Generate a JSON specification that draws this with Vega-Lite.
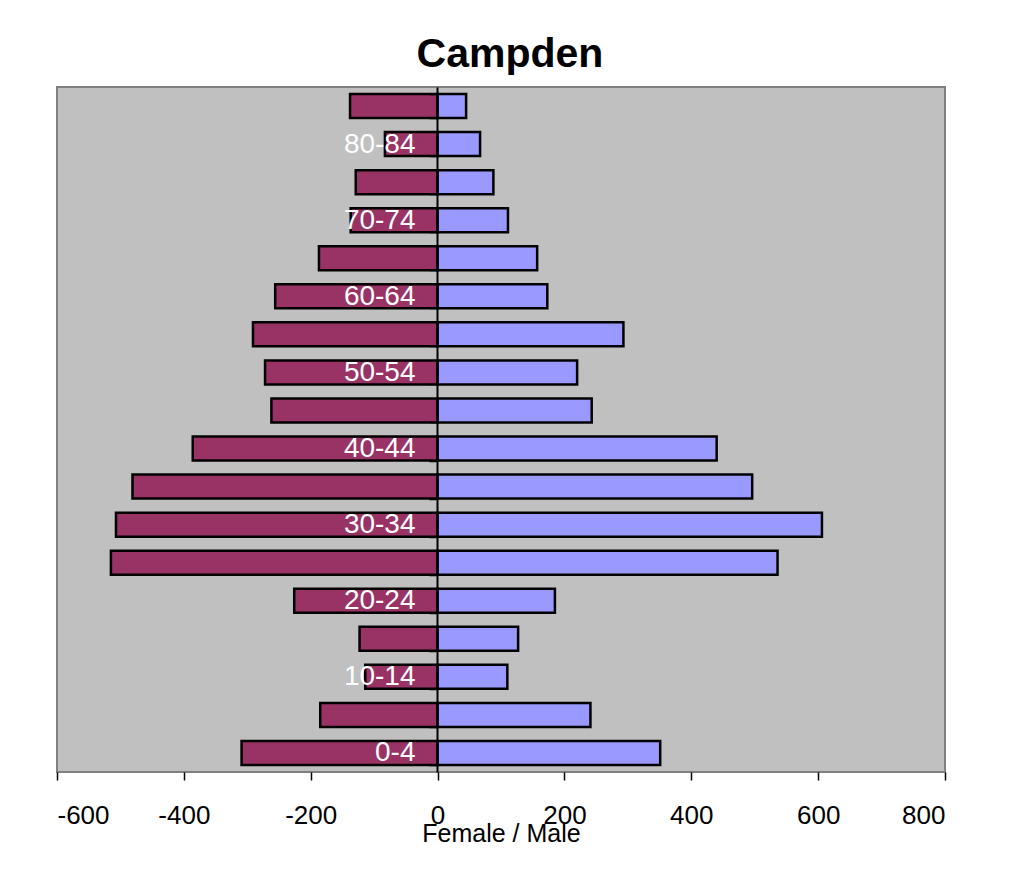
{
  "$schema": "https://vega.github.io/schema/vega-lite/v6.json",
  "width": 888,
  "height": 685,
  "autosize": {"type": "none"},
  "padding": {"left": 57, "top": 87, "right": 88, "bottom": 102},
  "background": "white",
  "title": {"text": "Campden", "font": "Liberation Sans", "fontSize": 41, "fontWeight": "bold", "color": "black", "offset": -3, "frame": "group", "dx": 9},
  "config": {"view": {"fill": "#C0C0C0", "stroke": "#808080", "strokeWidth": 2}},
  "data": {"values": [
    {"age": "85+", "sex": "Female", "value": -138},
    {"age": "80-84", "sex": "Female", "value": -83},
    {"age": "75-79", "sex": "Female", "value": -129},
    {"age": "70-74", "sex": "Female", "value": -137},
    {"age": "65-69", "sex": "Female", "value": -187},
    {"age": "60-64", "sex": "Female", "value": -256},
    {"age": "55-59", "sex": "Female", "value": -291},
    {"age": "50-54", "sex": "Female", "value": -272},
    {"age": "45-49", "sex": "Female", "value": -262},
    {"age": "40-44", "sex": "Female", "value": -386},
    {"age": "35-39", "sex": "Female", "value": -481},
    {"age": "30-34", "sex": "Female", "value": -507},
    {"age": "25-29", "sex": "Female", "value": -515},
    {"age": "20-24", "sex": "Female", "value": -226},
    {"age": "15-19", "sex": "Female", "value": -123},
    {"age": "10-14", "sex": "Female", "value": -114},
    {"age": "5-9", "sex": "Female", "value": -185},
    {"age": "0-4", "sex": "Female", "value": -309},
    {"age": "85+", "sex": "Male", "value": 45},
    {"age": "80-84", "sex": "Male", "value": 67},
    {"age": "75-79", "sex": "Male", "value": 88},
    {"age": "70-74", "sex": "Male", "value": 111},
    {"age": "65-69", "sex": "Male", "value": 157},
    {"age": "60-64", "sex": "Male", "value": 173},
    {"age": "55-59", "sex": "Male", "value": 293},
    {"age": "50-54", "sex": "Male", "value": 220},
    {"age": "45-49", "sex": "Male", "value": 243},
    {"age": "40-44", "sex": "Male", "value": 440},
    {"age": "35-39", "sex": "Male", "value": 496},
    {"age": "30-34", "sex": "Male", "value": 606},
    {"age": "25-29", "sex": "Male", "value": 536},
    {"age": "20-24", "sex": "Male", "value": 185},
    {"age": "15-19", "sex": "Male", "value": 127},
    {"age": "10-14", "sex": "Male", "value": 110},
    {"age": "5-9", "sex": "Male", "value": 241},
    {"age": "0-4", "sex": "Male", "value": 351}
  ]},
  "mark": {"type": "bar", "stroke": "black", "strokeWidth": 2.5},
  "encoding": {
    "y": {
      "field": "age", "type": "nominal",
      "sort": ["85+","80-84","75-79","70-74","65-69","60-64","55-59","50-54","45-49","40-44","35-39","30-34","25-29","20-24","15-19","10-14","5-9","0-4"],
      "scale": {"paddingInner": 0.37, "paddingOuter": 0.185},
      "axis": {
        "orient": "left", "offset": -380, "title": null,
        "domainColor": "black", "domainWidth": 2,
        "tickColor": "black", "tickSize": 8, "tickWidth": 1.5, "tickBand": "extent",
        "labelColor": "white", "labelFont": "Liberation Sans", "labelFontSize": 28, "labelPadding": 14,
        "labelExpr": "indexof(['0-4','10-14','20-24','30-34','40-44','50-54','60-64','70-74','80-84'], datum.value) >= 0 ? datum.value : ''",
        "zindex": 1
      }
    },
    "x": {
      "field": "value", "type": "quantitative",
      "scale": {"domain": [-600, 800], "nice": false},
      "axis": {
        "values": [-600,-400,-200,0,200,400,600,800],
        "labelExpr": "toString(datum.value)",
        "title": "Female / Male", "grid": false, "domain": false,
        "tickColor": "black", "tickSize": 8, "tickWidth": 1.5,
        "labelFont": "Liberation Sans", "labelFontSize": 26, "labelColor": "black", "labelPadding": 22,
        "titleFont": "Liberation Sans", "titleFontSize": 25, "titleFontWeight": "normal", "titleColor": "black", "titlePadding": -7
      }
    },
    "color": {"field": "sex", "type": "nominal", "scale": {"domain": ["Female","Male"], "range": ["#993366","#9999FF"]}, "legend": null}
  }
}
